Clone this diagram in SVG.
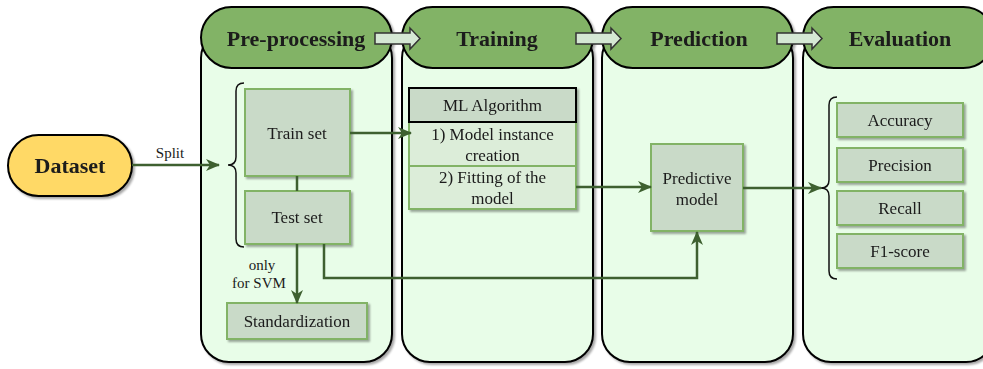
<svg xmlns="http://www.w3.org/2000/svg" width="983" height="369" viewBox="0 0 983 369">
  <defs>
    <filter id="shadow" x="-10%" y="-10%" width="130%" height="130%">
      <feGaussianBlur in="SourceAlpha" stdDeviation="1"/>
      <feOffset dx="2" dy="2" result="off"/>
      <feComponentTransfer><feFuncA type="linear" slope="0.35"/></feComponentTransfer>
      <feMerge><feMergeNode/><feMergeNode in="SourceGraphic"/></feMerge>
    </filter>
    <marker id="arrow" markerWidth="14" markerHeight="12" refX="13" refY="6" orient="auto" markerUnits="userSpaceOnUse">
      <path d="M0,0 L14,6 L0,12 L4,6 z" fill="#3e6030"/>
    </marker>
  </defs>
  <style>
    .col { fill: #e8fde8; stroke: #000; stroke-width: 2; }
    .head { fill: #82b366; stroke: #000; stroke-width: 2; }
    .htxt { font-family: "Liberation Serif", serif; font-size: 22px; font-weight: bold; fill: #1a1a1a; text-anchor: middle; }
    .hflow { fill: #d5e8d4; stroke: #333; stroke-width: 1.5; }
    .box { fill: #c9dac8; stroke: #82b366; stroke-width: 2; }
    .row { fill: #dcedd9; stroke: #82b366; stroke-width: 2; }
    .txt { font-family: "Liberation Serif", serif; font-size: 17px; fill: #1a1a1a; text-anchor: middle; }
    .small { font-size: 15px; }
    .edge { fill: none; stroke: #3e6030; stroke-width: 2.5; }
    .brace { fill: none; stroke: #111; stroke-width: 1.5; }
  </style>

  <!-- stage columns -->
  <g id="col-preprocessing" filter="url(#shadow)">
    <rect class="col" x="201" y="30" width="191" height="332" rx="28"/>
    <rect class="head" x="201" y="7" width="191" height="61" rx="30.5"/>
    <text class="htxt" x="296" y="46">Pre-processing</text>
  </g>
  <g id="col-training" filter="url(#shadow)">
    <rect class="col" x="402" y="30" width="191" height="332" rx="28"/>
    <rect class="head" x="402" y="7" width="191" height="61" rx="30.5"/>
    <text class="htxt" x="497" y="46">Training</text>
  </g>
  <g id="col-prediction" filter="url(#shadow)">
    <rect class="col" x="602" y="30" width="191" height="332" rx="28"/>
    <rect class="head" x="602" y="7" width="191" height="61" rx="30.5"/>
    <text class="htxt" x="699" y="46">Prediction</text>
  </g>
  <g id="col-evaluation" filter="url(#shadow)">
    <rect class="col" x="803" y="30" width="191" height="332" rx="28"/>
    <rect class="head" x="803" y="7" width="191" height="61" rx="30.5"/>
    <text class="htxt" x="900" y="46">Evaluation</text>
  </g>

  <!-- flow arrows between stage headers -->
  <g id="stage-flow">
    <path class="hflow" d="M375,33 L410,33 L410,28 L420,38.5 L410,49 L410,44 L375,44 z"/>
    <path class="hflow" d="M576,33 L611,33 L611,28 L621,38.5 L611,49 L611,44 L576,44 z"/>
    <path class="hflow" d="M777,33 L812,33 L812,28 L822,38.5 L812,49 L812,44 L777,44 z"/>
  </g>

  <!-- dataset -->
  <g id="dataset" filter="url(#shadow)">
    <rect x="8" y="135" width="124" height="61" rx="30.5" fill="#ffd966" stroke="#000" stroke-width="2"/>
    <text class="htxt" x="70" y="173">Dataset</text>
  </g>

  <!-- braces -->
  <g id="braces">
    <path class="brace" d="M244,83 Q236,83 236,91 L236,157 Q236,165 228,165 Q236,165 236,173 L236,239 Q236,247 244,247"/>
    <path class="brace" d="M837,97 Q829,97 829,105 L829,180 Q829,188 821,188 Q829,188 829,196 L829,271 Q829,279 837,279"/>
  </g>

  <!-- pre-processing nodes -->
  <g id="train-set" filter="url(#shadow)">
    <rect class="box" x="245" y="89" width="105" height="87"/>
    <text class="txt" x="297" y="139">Train set</text>
  </g>
  <g id="test-set" filter="url(#shadow)">
    <rect class="box" x="245" y="191" width="105" height="53"/>
    <text class="txt" x="297" y="223">Test set</text>
  </g>
  <g id="standardization" filter="url(#shadow)">
    <rect class="box" x="227" y="303" width="140" height="36"/>
    <text class="txt" x="297" y="327">Standardization</text>
  </g>

  <!-- training node -->
  <g id="ml-algorithm" filter="url(#shadow)">
    <rect class="row" x="409" y="122" width="167" height="44"/>
    <rect class="row" x="409" y="166" width="167" height="43"/>
    <rect x="409" y="88" width="167" height="34" fill="#c9dac8" stroke="#000" stroke-width="2"/>
    <text class="txt" x="492.5" y="111">ML Algorithm</text>
    <text class="txt" x="492.5" y="140">1) Model instance</text>
    <text class="txt" x="492.5" y="161">creation</text>
    <text class="txt" x="492.5" y="183">2) Fitting of the</text>
    <text class="txt" x="492.5" y="204">model</text>
  </g>

  <!-- prediction node -->
  <g id="predictive-model" filter="url(#shadow)">
    <rect class="box" x="651" y="144" width="92" height="87"/>
    <text class="txt" x="697" y="184">Predictive</text>
    <text class="txt" x="697" y="205">model</text>
  </g>

  <!-- evaluation nodes -->
  <g id="accuracy" filter="url(#shadow)">
    <rect class="box" x="837" y="103" width="126" height="34"/>
    <text class="txt" x="900" y="126">Accuracy</text>
  </g>
  <g id="precision" filter="url(#shadow)">
    <rect class="box" x="837" y="148" width="126" height="34"/>
    <text class="txt" x="900" y="171">Precision</text>
  </g>
  <g id="recall" filter="url(#shadow)">
    <rect class="box" x="837" y="191" width="126" height="34"/>
    <text class="txt" x="900" y="214">Recall</text>
  </g>
  <g id="f1-score" filter="url(#shadow)">
    <rect class="box" x="837" y="234" width="126" height="34"/>
    <text class="txt" x="900" y="257">F1-score</text>
  </g>

  <!-- connectors -->
  <g id="connectors">
    <path class="edge" d="M132,165 L219,165" marker-end="url(#arrow)"/>
    <text class="txt small" x="170" y="158">Split</text>
    <path class="edge" d="M297,176 L297,191"/>
    <path class="edge" d="M350,133 L411,133" marker-end="url(#arrow)"/>
    <path class="edge" d="M297,244 L297,303" marker-end="url(#arrow)"/>
    <text class="txt small" x="262" y="270">only</text>
    <text class="txt small" x="259" y="288">for SVM</text>
    <path class="edge" d="M324,244 L324,278 L697,278 L697,232" marker-end="url(#arrow)"/>
    <path class="edge" d="M576,187 L651,187" marker-end="url(#arrow)"/>
    <path class="edge" d="M743,188 L821,188" marker-end="url(#arrow)"/>
  </g>
</svg>
